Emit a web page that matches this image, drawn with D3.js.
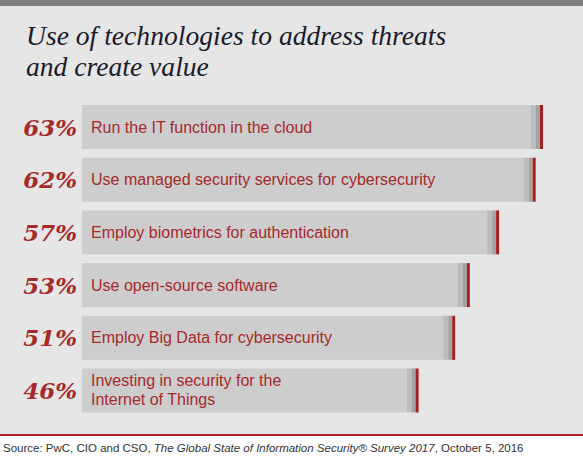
<!DOCTYPE html>
<html><head><meta charset="utf-8">
<script src="https://cdn.jsdelivr.net/npm/d3@7"></script>
<style>html,body{margin:0;padding:0;background:#fff;}</style>
</head><body>
<script>
const categories = [
  ["Run the IT function in the cloud"],
  ["Use managed security services for cybersecurity"],
  ["Employ biometrics for authentication"],
  ["Use open-source software"],
  ["Employ Big Data for cybersecurity"],
  ["Investing in security for the", "Internet of Things"]
];
const values = [63, 62, 57, 53, 51, 46];
const valueLabels = ["63%", "62%", "57%", "53%", "51%", "46%"];
const titleLines = ["Use of technologies to address threats", "and create value"];

const W = 583, H = 460;
const svg = d3.select("body").append("svg").attr("width", W).attr("height", H);

svg.append("rect").attr("x",0).attr("y",0).attr("width",W).attr("height",435).attr("fill","#e6e6e6");
svg.append("rect").attr("x",0).attr("y",0).attr("width",W).attr("height",6).attr("fill","#7f7f7f");
svg.append("rect").attr("x",0).attr("y",434).attr("width",W).attr("height",2).attr("fill","#a6201f");

svg.selectAll("text.title").data(titleLines).join("text")
  .attr("x", 26).attr("y", (d,i)=>45 + i*31)
  .attr("font-family","Liberation Serif, serif").attr("font-style","italic")
  .attr("font-size",27.6).attr("fill","#1b1b2b").text(d=>d);

const x = d3.scaleLinear().domain([0, 63]).range([82, 543]);
const y = d3.scaleBand().domain(d3.range(values.length)).range([105, 412.5]).paddingInner(0.165).paddingOuter(0);

const g = svg.selectAll("g.row").data(values).join("g").attr("class","row");
g.append("rect").attr("x", x(0)).attr("y",(d,i)=>y(i)).attr("width", d=>x(d)-x(0)-12).attr("height", y.bandwidth()).attr("fill","#cdcdcd");
g.append("rect").attr("x", d=>x(d)-12).attr("y",(d,i)=>y(i)).attr("width",5).attr("height", y.bandwidth()).attr("fill","#bcbcbc");
g.append("rect").attr("x", d=>x(d)-7).attr("y",(d,i)=>y(i)).attr("width",4).attr("height", y.bandwidth()).attr("fill","#a3a3a3");
g.append("rect").attr("x", d=>x(d)-3).attr("y",(d,i)=>y(i)).attr("width",3).attr("height", y.bandwidth()).attr("fill","#a6201f");

g.append("text").attr("x", 77).attr("y",(d,i)=>y(i)+y.bandwidth()/2 + 8.5)
  .attr("text-anchor","end").attr("font-family","DejaVu Serif, serif")
  .attr("font-weight","bold").attr("font-style","italic").attr("font-size",23)
  .attr("fill","#a52a2a").text((d,i)=>valueLabels[i]);

g.each(function(d,i){
  const lines = categories[i];
  const cy = y(i)+y.bandwidth()/2;
  const lh = 19;
  d3.select(this).selectAll("text.cat").data(lines).join("text").attr("class","cat")
    .attr("x", 91).attr("y",(t,j)=>cy + 5.5 + (j - (lines.length-1)/2)*lh)
    .attr("font-family","Liberation Sans, Arial, sans-serif").attr("font-size",16)
    .attr("fill","#a52a2a").text(t=>t);
});

const src = svg.append("text").attr("x",3).attr("y",452)
  .attr("font-family","Liberation Sans, Arial, sans-serif").attr("font-size",11.5).attr("fill","#333");
src.append("tspan").text("Source: PwC, CIO and CSO, ");
src.append("tspan").attr("font-style","italic").text("The Global State of Information Security® Survey 2017");
src.append("tspan").text(", October 5, 2016");
</script>
</body></html>
